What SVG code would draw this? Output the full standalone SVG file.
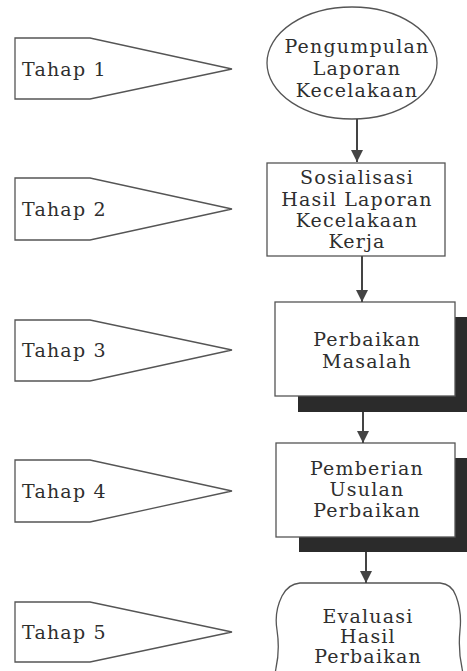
<svg xmlns="http://www.w3.org/2000/svg" width="467" height="671" viewBox="0 0 467 671">
<style>
.shape{fill:#fff;stroke:#555;stroke-width:1.3}
.shadow{fill:#2b2b2b}
.lbl{font-family:"DejaVu Serif","Liberation Serif",serif;font-size:19px;letter-spacing:1.2px;fill:#2e2e2e}
.txt{font-family:"DejaVu Serif","Liberation Serif",serif;font-size:19px;letter-spacing:1.2px;fill:#2e2e2e;text-anchor:middle}
.conn{stroke:#444;stroke-width:2;fill:none}
</style>
<defs>
<marker id="ah" viewBox="0 0 12 12" refX="12" refY="6" markerWidth="12" markerHeight="12" markerUnits="userSpaceOnUse" orient="auto">
<path d="M0,0 L12,6 L0,12 Z" fill="#444"/>
</marker>
</defs>
<rect width="467" height="671" fill="#fff"/>
<g id="tahap1"><path class="shape" d="M15,38 H90 L232,69 L90,99 H15 Z"/><text class="lbl" x="22" y="76">Tahap 1</text></g>
<g id="tahap2"><path class="shape" d="M15,178 H90 L232,209 L90,240 H15 Z"/><text class="lbl" x="22" y="216">Tahap 2</text></g>
<g id="tahap3"><path class="shape" d="M15,320 H90 L232,350 L90,381 H15 Z"/><text class="lbl" x="22" y="357">Tahap 3</text></g>
<g id="tahap4"><path class="shape" d="M15,460 H90 L232,491 L90,522 H15 Z"/><text class="lbl" x="22" y="498">Tahap 4</text></g>
<g id="tahap5"><path class="shape" d="M15,602 H90 L232,632 L90,662 H15 Z"/><text class="lbl" x="22" y="639">Tahap 5</text></g>
<g id="node1"><ellipse class="shape" cx="352" cy="63" rx="85" ry="56"/>
<text class="txt" x="357" y="53">Pengumpulan</text><text class="txt" x="357" y="75">Laporan</text><text class="txt" x="357" y="97">Kecelakaan</text></g>
<g id="node2"><rect class="shape" x="267" y="163" width="178" height="93"/>
<text class="txt" x="357" y="184">Sosialisasi</text><text class="txt" x="357" y="206">Hasil Laporan</text><text class="txt" x="357" y="227">Kecelakaan</text><text class="txt" x="357" y="248">Kerja</text></g>
<g id="node3"><rect class="shadow" x="298" y="317" width="180" height="95"/><rect class="shape" x="275" y="302" width="180" height="94"/>
<text class="txt" x="367" y="346">Perbaikan</text><text class="txt" x="367" y="368">Masalah</text></g>
<g id="node4"><rect class="shadow" x="299" y="458" width="180" height="94"/><rect class="shape" x="276" y="443" width="179" height="94"/>
<text class="txt" x="367" y="475">Pemberian</text><text class="txt" x="367" y="496">Usulan</text><text class="txt" x="367" y="517">Perbaikan</text></g>
<g id="node5"><path class="shape" d="M300,583 H440 Q452,584 456,596 Q462,612 460,630 Q458,650 462,668 L464,680 H274 L276,668 Q280,650 277,630 Q274,612 282,596 Q288,584 300,583 Z"/>
<text class="txt" x="368" y="623">Evaluasi</text><text class="txt" x="368" y="643">Hasil</text><text class="txt" x="368" y="663">Perbaikan</text></g>
<g id="connectors">
<line class="conn" x1="357" y1="119" x2="357" y2="162" marker-end="url(#ah)"/>
<line class="conn" x1="362" y1="256" x2="362" y2="302" marker-end="url(#ah)"/>
<line class="conn" x1="363" y1="412" x2="363" y2="443" marker-end="url(#ah)"/>
<line class="conn" x1="366" y1="552" x2="366" y2="583" marker-end="url(#ah)"/>
</g>
</svg>
